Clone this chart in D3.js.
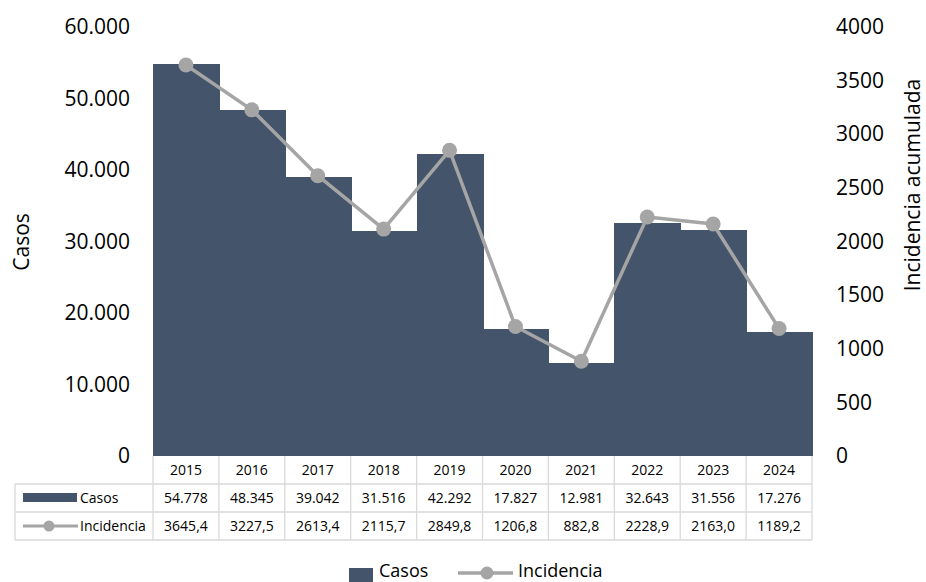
<!DOCTYPE html>
<html><head><meta charset="utf-8">
<script src="https://cdn.jsdelivr.net/npm/d3@7"></script>
<style>body{margin:0;background:#fff}svg{display:block}text{font-family:"Open Sans",sans-serif;fill:#000}</style>
</head><body><svg id="c" width="926" height="582"></svg>
<script>
const years = ["2015","2016","2017","2018","2019","2020","2021","2022","2023","2024"];
const casos = [54778,48345,39042,31516,42292,17827,12981,32643,31556,17276];
const incidencia = [3645.4,3227.5,2613.4,2115.7,2849.8,1206.8,882.8,2228.9,2163.0,1189.2];
const casosLabels = ["54.778","48.345","39.042","31.516","42.292","17.827","12.981","32.643","31.556","17.276"];
const incLabels = ["3645,4","3227,5","2613,4","2115,7","2849,8","1206,8","882,8","2228,9","2163,0","1189,2"];
const leftTicks = [0,10000,20000,30000,40000,50000,60000];
const rightTicks = [0,500,1000,1500,2000,2500,3000,3500,4000];

const svg = d3.select("#c");
const L = 153, R = 812, T = 27, B = 456;
const x = d3.scaleBand().domain(years).range([L, R]).padding(0);
const yL = d3.scaleLinear().domain([0, 60000]).range([B, T]);
const yR = d3.scaleLinear().domain([0, 4000]).range([B, T]);
const barColor = "#44546a", lineColor = "#a5a5a5", gridColor = "#d9d9d9";
const fmtDot = d => d3.format(",")(d).replace(/,/g, ".");

// bars
svg.append("g").attr("shape-rendering","crispEdges").selectAll("rect").data(years).join("rect")
  .attr("x", d => Math.round(x(d))).attr("width", d => Math.round(x(d) + x.bandwidth()) - Math.round(x(d)) + 1)
  .attr("y", (d,i) => yL(casos[i])).attr("height", (d,i) => B - yL(casos[i]))
  .attr("fill", barColor);

// left axis
const ga = svg.append("g").attr("transform", `translate(${L-23},0)`)
  .call(d3.axisLeft(yL).tickValues(leftTicks).tickFormat(fmtDot).tickSize(0).tickPadding(0));
ga.select(".domain").remove();
ga.selectAll("text").style("font-size","21px").style("font-family","'Open Sans',sans-serif").attr("fill","#000");

const gr = svg.append("g").attr("transform", `translate(${R+24},0)`)
  .call(d3.axisRight(yR).tickValues(rightTicks).tickFormat(d3.format("d")).tickSize(0).tickPadding(0));
gr.select(".domain").remove();
gr.selectAll("text").style("font-size","21px").style("font-family","'Open Sans',sans-serif").attr("fill","#000");

svg.append("text").attr("transform","translate(29,242) rotate(-90)").attr("text-anchor","middle")
  .style("font-size","21px").text("Casos");
svg.append("text").attr("transform","translate(920,185) rotate(-90)").attr("text-anchor","middle")
  .style("font-size","21px").text("Incidencia acumulada");

// line
const line = d3.line().x((d,i) => x(years[i]) + x.bandwidth()/2).y(d => yR(d));
svg.append("path").datum(incidencia).attr("d", line).attr("fill","none")
  .attr("stroke", lineColor).attr("stroke-width", 3.5).attr("stroke-linejoin","round");
svg.append("g").selectAll("circle").data(incidencia).join("circle")
  .attr("cx", (d,i) => x(years[i]) + x.bandwidth()/2).attr("cy", d => yR(d))
  .attr("r", 7.5).attr("fill", lineColor);

// data table
const rowH = 28, r0 = B, tblL = 15;
const tg = svg.append("g");
const hl = (x1,y1,x2,y2) => tg.append("line").attr("x1",x1).attr("y1",y1).attr("x2",x2).attr("y2",y2)
  .attr("stroke",gridColor).attr("stroke-width",1.3);
hl(L, r0 + rowH, R, r0 + rowH);
hl(tblL, r0 + rowH, L, r0 + rowH);
hl(tblL, r0 + 2*rowH, R, r0 + 2*rowH);
hl(tblL, r0 + 3*rowH, R, r0 + 3*rowH);
hl(tblL, r0 + rowH, tblL, r0 + 3*rowH);
years.forEach(y => hl(x(y), r0, x(y), r0 + 3*rowH));
hl(R, r0, R, r0 + 3*rowH);

const cellText = (arr, row) => tg.append("g").selectAll("text").data(arr).join("text")
  .attr("x", (d,i) => x(years[i]) + x.bandwidth()/2).attr("y", r0 + row*rowH + rowH/2 + 5)
  .attr("text-anchor","middle").style("font-size","14px").text(d => d);
cellText(years, 0);
cellText(casosLabels, 1);
cellText(incLabels, 2);

// table legend keys
tg.append("rect").attr("x", 23).attr("y", r0 + rowH + 9).attr("width", 54).attr("height", 9).attr("fill", barColor);
tg.append("text").attr("x", 80).attr("y", r0 + rowH + rowH/2 + 5).style("font-size","14px").text("Casos");
tg.append("line").attr("x1",23).attr("x2",78).attr("y1", r0 + 2*rowH + rowH/2).attr("y2", r0 + 2*rowH + rowH/2)
  .attr("stroke", lineColor).attr("stroke-width", 3);
tg.append("circle").attr("cx", 49).attr("cy", r0 + 2*rowH + rowH/2).attr("r", 5.5).attr("fill", lineColor);
tg.append("text").attr("x", 80).attr("y", r0 + 2*rowH + rowH/2 + 5).style("font-size","14px").text("Incidencia");

// bottom legend
const lg = svg.append("g");
lg.append("rect").attr("x", 349).attr("y", 568).attr("width", 24).attr("height", 14).attr("fill", barColor);
lg.append("text").attr("x", 379).attr("y", 577).style("font-size","18px").text("Casos");
lg.append("line").attr("x1", 458).attr("x2", 513).attr("y1", 573).attr("y2", 573).attr("stroke", lineColor).attr("stroke-width", 3.5);
lg.append("circle").attr("cx", 487).attr("cy", 573).attr("r", 6.5).attr("fill", lineColor);
lg.append("text").attr("x", 518).attr("y", 577).style("font-size","18px").text("Incidencia");
</script></body></html>
